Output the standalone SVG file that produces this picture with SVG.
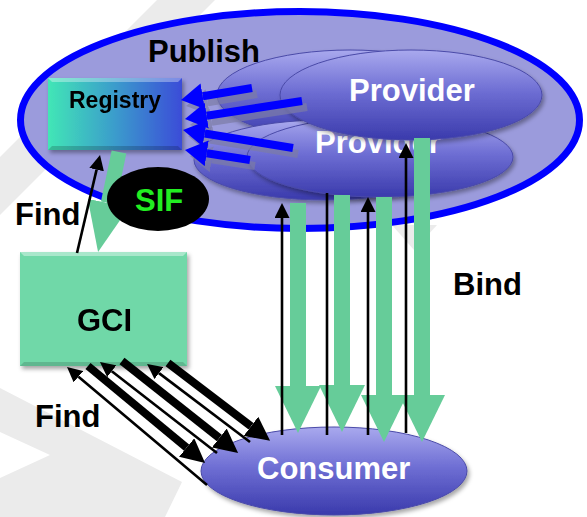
<svg xmlns="http://www.w3.org/2000/svg" width="587" height="517" viewBox="0 0 587 517">
  <defs>
    <style>
      text { font-family: "Liberation Sans", Arial, sans-serif; font-weight: bold; }
      .lbl { font-size: 31px; fill: #000; }
      .wlbl { font-size: 31px; fill: #fff; }
      .wm { fill: #ebebeb; }
      .prov { fill: url(#provGrad); stroke: #4a4aa8; stroke-width: 1; }
      .blue { stroke: #0000ff; stroke-width: 8; fill: none; }
      .bshadow { stroke: #7c7ca6; stroke-width: 8; fill: none; opacity: 0.7; }
      .thin { stroke: #000; stroke-width: 2.6; fill: none; }
      .thick { stroke: #000; stroke-width: 8; fill: none; }
      .green { stroke: #66cc99; stroke-width: 16; fill: none; }
    </style>
    <linearGradient id="provGrad" x1="0" y1="0" x2="0" y2="1">
      <stop offset="0" stop-color="#a9a9ee"/>
      <stop offset="0.45" stop-color="#6f6fd4"/>
      <stop offset="1" stop-color="#3a3aac"/>
    </linearGradient>
    <linearGradient id="regGrad" x1="0" y1="0" x2="1" y2="0">
      <stop offset="0" stop-color="#42e6b6"/>
      <stop offset="0.5" stop-color="#3a9ccc"/>
      <stop offset="1" stop-color="#3a4cd8"/>
    </linearGradient>
    <filter id="sh" x="-10%" y="-10%" width="130%" height="130%">
      <feDropShadow dx="2" dy="3" stdDeviation="2" flood-color="#000" flood-opacity="0.35"/>
    </filter>
    <marker id="hBlue" markerUnits="userSpaceOnUse" markerWidth="24" markerHeight="26" refX="0" refY="13" orient="auto">
      <path d="M0,0 L22,13 L0,26 z" fill="#0000ff"/>
    </marker>
    <marker id="hBShadow" markerUnits="userSpaceOnUse" markerWidth="24" markerHeight="26" refX="0" refY="13" orient="auto">
      <path d="M0,0 L22,13 L0,26 z" fill="#7c7ca6"/>
    </marker>
    <marker id="hThin" markerUnits="userSpaceOnUse" markerWidth="16" markerHeight="15" refX="0" refY="7.5" orient="auto">
      <path d="M0,0 L15,7.5 L0,15 z" fill="#000"/>
    </marker>
    <marker id="hThick" markerUnits="userSpaceOnUse" markerWidth="26" markerHeight="24" refX="0" refY="12" orient="auto">
      <path d="M0,0 L24,12 L0,24 z" fill="#000"/>
    </marker>
    <marker id="hGreen" markerUnits="userSpaceOnUse" markerWidth="48" markerHeight="46" refX="0" refY="23" orient="auto">
      <path d="M0,0 L47,23 L0,46 z" fill="#66cc99"/>
    </marker>
    <marker id="hGreenS" markerUnits="userSpaceOnUse" markerWidth="52" markerHeight="42" refX="0" refY="21" orient="auto">
      <path d="M0,0 L50,21 L0,42 z" fill="#66cc99"/>
    </marker>
  </defs>

  <rect width="587" height="517" fill="#fff"/>

  <g id="watermark">
    <polygon class="wm" points="157,0 215,0 0,215 0,157"/>
    <polygon class="wm" points="0,388 182,482 165,517 0,517 0,478 50,455 0,432"/>
    <polygon class="wm" points="392,225 437,225 414,250"/>
  </g>

  <g id="domain">
    <ellipse cx="300" cy="120" rx="279.5" ry="108.5" fill="#9b9bdc" stroke="#0000ff" stroke-width="7"/>
  </g>

  <g id="providers">
    <ellipse class="prov" cx="350" cy="95" rx="133" ry="45" filter="url(#sh)"/>
    <ellipse class="prov" cx="325" cy="160" rx="131" ry="40" filter="url(#sh)"/>
    <g id="provider-lower">
      <ellipse class="prov" cx="380" cy="157" rx="133" ry="40" filter="url(#sh)"/>
      <text class="wlbl" x="315" y="153">Provider</text>
    </g>
    <g id="provider-upper">
      <ellipse class="prov" cx="411" cy="95" rx="131" ry="45" filter="url(#sh)"/>
      <text class="wlbl" x="349" y="101">Provider</text>
    </g>
  </g>

  <text id="publish" class="lbl" x="148" y="62">Publish</text>

  <g id="registry" filter="url(#sh)">
    <rect x="48" y="78" width="134" height="72" fill="url(#regGrad)"/>
    <polygon points="48,78 182,78 178,82 52,82" fill="#ffffff" opacity="0.35"/>
    <polygon points="48,150 182,150 178,146 52,146" fill="#000" opacity="0.18"/>
    <text x="69" y="108" style="font-size:23px" fill="#000">Registry</text>
  </g>

  <g id="consumer">
    <ellipse class="prov" cx="334" cy="471" rx="133" ry="44" filter="url(#sh)"/>
    <text class="wlbl" x="257" y="479">Consumer</text>
  </g>

  <g id="gci" filter="url(#sh)">
    <rect x="20" y="252" width="167" height="114" fill="#70d8a8"/>
    <polygon points="20,252 187,252 183,256 24,256" fill="#ffffff" opacity="0.4"/>
    <polygon points="20,366 187,366 183,362 24,362" fill="#000" opacity="0.15"/>
    <text class="lbl" x="77" y="331">GCI</text>
  </g>

  <g id="connectors">
    <!-- publish arrows into registry -->
    <line class="bshadow" x1="257" y1="94" x2="207.7" y2="102.3" marker-end="url(#hBShadow)"/>
    <line class="bshadow" x1="307" y1="107" x2="211.7" y2="121.7" marker-end="url(#hBShadow)"/>
    <line class="bshadow" x1="298" y1="154" x2="209.7" y2="139.5" marker-end="url(#hBShadow)"/>
    <line class="bshadow" x1="255" y1="166" x2="211.7" y2="159.3" marker-end="url(#hBShadow)"/>
    <line class="blue" x1="252" y1="88" x2="202.7" y2="96.3" marker-end="url(#hBlue)"/>
    <line class="blue" x1="302" y1="101" x2="206.7" y2="115.7" marker-end="url(#hBlue)"/>
    <line class="blue" x1="293" y1="148" x2="204.7" y2="133.5" marker-end="url(#hBlue)"/>
    <line class="blue" x1="250" y1="160" x2="206.7" y2="153.3" marker-end="url(#hBlue)"/>

    <!-- registry to GCI (SIF) -->
    <line x1="119" y1="152" x2="108.3" y2="203.1" stroke="#66cc99" stroke-width="15" marker-end="url(#hGreenS)"/>

    <!-- bind: green down arrows -->
    <line class="green" x1="298" y1="203" x2="298" y2="386" marker-end="url(#hGreen)"/>
    <line class="green" x1="342" y1="195" x2="342" y2="385" marker-end="url(#hGreen)"/>
    <line class="green" x1="384" y1="197" x2="384" y2="395" marker-end="url(#hGreen)"/>
    <line class="green" x1="422" y1="138" x2="422" y2="395" marker-end="url(#hGreen)"/>

    <!-- bind: black up arrows -->
    <line class="thin" x1="282" y1="435" x2="282" y2="218" marker-end="url(#hThin)"/>
    <line class="thin" x1="327" y1="435" x2="327" y2="193"/>
    <line class="thin" x1="368" y1="435" x2="368" y2="212" marker-end="url(#hThin)"/>
    <line class="thin" x1="406" y1="433" x2="406" y2="158" marker-end="url(#hThin)"/>

    <!-- find: GCI to registry -->
    <line class="thin" x1="77" y1="253" x2="96.6" y2="169.6" marker-end="url(#hThin)"/>

    <!-- find: consumer <-> GCI -->
    <line class="thin" x1="207" y1="485" x2="78.5" y2="376.7" marker-end="url(#hThin)"/>
    <line class="thick" x1="88" y1="366" x2="186.6" y2="447.6" marker-end="url(#hThick)"/>
    <line class="thin" x1="217" y1="453" x2="111.8" y2="371.2" marker-end="url(#hThin)"/>
    <line class="thick" x1="122" y1="361" x2="219.3" y2="438" marker-end="url(#hThick)"/>
    <line class="thin" x1="250" y1="442" x2="159" y2="373.1" marker-end="url(#hThin)"/>
    <line class="thick" x1="168" y1="363" x2="251" y2="426.3" marker-end="url(#hThick)"/>
  </g>

  <g id="sif">
    <ellipse cx="158" cy="199" rx="51" ry="32" fill="#000"/>
    <text x="135" y="211" style="font-size:31px" fill="#22ee22">SIF</text>
  </g>

  <g id="labels">
    <text class="lbl" x="15" y="225">Find</text>
    <text class="lbl" x="35" y="427">Find</text>
    <text class="lbl" x="453" y="295">Bind</text>
  </g>
</svg>
